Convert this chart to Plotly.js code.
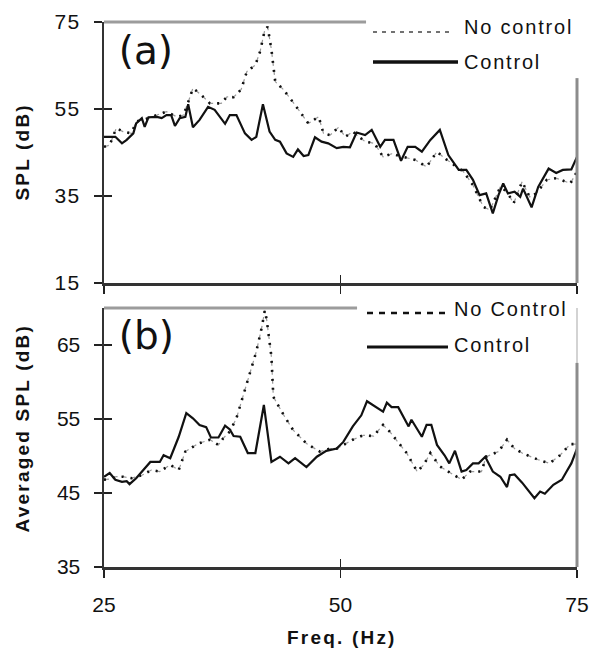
<!DOCTYPE html>
<html>
<head>
<meta charset="utf-8">
<script src="https://cdn.plot.ly/plotly-3.0.1.min.js"></script>
<style>
  html, body { margin: 0; padding: 0; background: #fff; }
  #chart { width: 593px; height: 657px; }
  .annotation-text { letter-spacing: 1.8px; }
  g.annotation[data-index="4"] text, g.annotation[data-index="5"] text { letter-spacing: 0px; }
  g.annotation[data-index="6"] text, g.annotation[data-index="7"] text, g.annotation[data-index="8"] text { letter-spacing: 2.2px; }
  .xtick text, .ytick text { letter-spacing: 1.2px; }
</style>
</head>
<body>
<div id="chart"></div>
<script>
// ---------- Data ----------
const seriesNames = ["No control", "Control"];
const seriesNamesB = ["No Control", "Control"];
const panelLabels = ["(a)", "(b)"];
const yTitleA = "SPL (dB)";
const yTitleB = "Averaged SPL (dB)";
const xTitle = "Freq. (Hz)";

const xTicks = [25, 50, 75];
const yTicksA = [15, 35, 55, 75];
const yTicksB = [35, 45, 55, 65];

// Panel (a) - Control
const freqA_ctrl = [25.0,25.6,26.2,26.9,27.4,28.1,28.4,29.0,29.3,29.7,30.6,31.1,31.6,32.1,32.5,33.0,33.6,33.9,34.4,35.1,36.0,36.7,37.8,38.3,39.0,39.9,40.6,41.1,41.8,42.5,43.1,43.6,44.3,45.0,45.5,46.1,46.6,47.3,48.0,48.7,49.6,50.3,51.0,51.7,52.6,53.3,54.2,54.7,55.6,56.4,57.1,57.9,58.6,59.5,60.5,61.4,62.5,63.3,64.0,64.7,65.4,66.1,66.7,67.2,67.7,68.4,69.0,69.3,70.2,70.9,72.0,72.8,73.5,74.4,75.0];
const splA_ctrl  = [48.6,48.6,48.6,47.1,47.9,49.4,51.7,52.9,50.9,53.1,53.2,52.9,53.6,53.6,51.1,52.9,53.2,56.1,50.8,52.5,55.5,54.8,51.6,53.6,53.6,49.4,47.9,48.6,56.1,49.8,47.9,47.5,44.8,44.0,45.7,44.2,44.4,48.5,47.5,47.1,46.0,46.3,46.2,49.6,49.0,50.2,46.3,47.9,47.9,43.1,46.3,46.3,45.2,47.9,50.2,44.4,41.0,41.0,38.7,35.2,35.6,31.0,35.2,37.9,35.6,36.0,34.8,36.7,32.4,37.1,41.3,40.3,41.0,41.1,44.0];

// Panel (a) - No control
const freqA_noc = [25.0,25.6,26.3,27.0,27.9,28.4,29.7,30.6,31.6,32.7,33.4,34.1,34.4,35.3,36.2,37.4,38.0,38.7,39.5,40.1,41.0,41.5,42.0,42.3,42.7,43.1,44.0,45.2,46.6,47.7,48.2,48.9,49.8,50.5,51.3,52.6,53.6,54.5,55.4,56.6,57.9,59.1,60.2,61.0,62.1,63.0,64.0,65.1,65.8,66.9,67.6,68.3,69.2,70.0,70.7,71.8,72.8,74.3,75.0];
const splA_noc  = [46.3,46.7,50.6,49.8,49.4,52.1,52.9,53.6,54.4,53.2,53.6,57.8,59.8,58.2,56.3,56.3,57.8,57.7,59.5,63.6,65.1,68.2,73.2,73.9,68.6,61.3,59.4,55.9,51.7,53.2,49.4,49.0,50.8,48.6,49.8,47.5,47.1,44.0,44.7,44.0,43.3,41.7,45.2,43.7,42.1,40.6,37.5,32.5,31.8,37.1,36.0,33.3,38.3,34.8,35.6,38.7,39.1,37.9,40.6];

// Panel (b) - Control
const freqB_ctrl = [25.0,25.6,26.2,26.9,27.4,27.7,28.4,29.1,29.9,30.9,31.3,32.0,32.9,33.7,34.4,35.1,35.8,36.3,37.1,37.8,38.3,38.7,39.4,40.2,41.0,41.9,42.7,43.6,44.5,45.2,46.4,47.5,48.5,49.6,50.3,51.3,52.2,52.8,53.6,54.5,54.9,55.4,56.1,57.2,57.5,58.6,59.1,59.6,60.2,61.0,61.5,62.1,62.8,63.3,64.0,64.6,65.3,66.1,66.9,67.6,67.9,68.4,69.2,69.9,70.5,71.1,71.6,72.5,73.4,73.9,74.4,75.0];
const splB_ctrl  = [47.2,47.7,46.8,46.5,46.6,46.2,47.0,48.1,49.2,49.2,50.1,49.7,52.6,55.8,55.1,54.2,53.9,52.5,52.5,54.1,53.6,52.7,52.6,50.4,50.4,56.9,49.2,49.9,49.0,49.7,48.5,49.9,50.7,51.0,51.9,54.0,55.5,57.4,56.7,56.0,57.2,56.6,56.6,54.0,54.9,52.6,54.2,54.2,51.5,50.1,49.0,50.7,47.9,48.1,49.0,49.0,49.9,47.9,47.2,45.8,47.4,47.5,46.4,45.2,44.3,45.2,44.9,46.1,46.8,47.9,49.0,51.0];

// Panel (b) - No Control
const freqB_noc = [25.0,25.6,26.3,27.0,27.9,29.0,30.0,30.9,32.0,32.9,33.6,35.0,36.2,37.1,37.6,38.3,39.0,39.7,40.4,41.1,41.7,42.0,42.2,42.7,42.9,44.1,45.0,46.4,47.8,48.9,49.6,51.3,52.4,53.5,54.5,55.2,57.0,58.1,58.8,59.5,60.5,61.4,62.8,63.7,64.9,65.4,66.7,67.6,68.4,69.2,70.9,72.1,73.2,74.3,75.0];
const splB_noc  = [46.8,46.9,47.2,47.2,47.0,47.4,48.1,47.9,48.8,48.1,50.6,51.7,52.2,51.5,52.4,53.3,55.1,58.0,60.9,64.1,67.5,69.7,68.4,63.4,58.0,55.3,53.5,51.7,50.6,51.0,51.0,52.2,52.8,52.7,54.2,53.3,50.4,47.9,48.8,50.4,48.6,47.9,46.8,47.9,47.9,49.9,50.6,52.2,51.0,50.4,49.5,49.0,50.1,51.6,51.6];

// ---------- Styles ----------
const FONT = "Liberation Sans, Arial, Helvetica, sans-serif";
const W = 593, H = 657;
const px = v => v / W;            // pixel -> paper x
const py = v => 1 - v / H;        // pixel -> paper y

const xDom = [px(104), px(577)];
const yDomA = [py(283), py(22)];
const yDomB = [py(567), py(308)];

const ctrlLine = {color: "#111", width: 2.2};
const nocGray = {color: "#9a9a9a", width: 1.2, dash: "5px,4px"};
const nocBlack = {color: "#111", width: 2.6, dash: "2px,7px"};

const traces = [
  {x: freqA_noc, y: splA_noc, xaxis: "x", yaxis: "y", mode: "lines", line: nocGray, showlegend: false},
  {x: freqA_noc, y: splA_noc, xaxis: "x", yaxis: "y", mode: "lines", line: nocBlack, name: seriesNames[0], showlegend: false},
  {x: freqA_ctrl, y: splA_ctrl, xaxis: "x", yaxis: "y", mode: "lines", line: ctrlLine, name: seriesNames[1], showlegend: false},
  {x: freqB_noc, y: splB_noc, xaxis: "x2", yaxis: "y2", mode: "lines", line: nocGray, showlegend: false},
  {x: freqB_noc, y: splB_noc, xaxis: "x2", yaxis: "y2", mode: "lines", line: nocBlack, name: seriesNamesB[0], showlegend: false},
  {x: freqB_ctrl, y: splB_ctrl, xaxis: "x2", yaxis: "y2", mode: "lines", line: ctrlLine, name: seriesNamesB[1], showlegend: false},
  // invisible traces that activate the overlay axes (inner half of the crossing ticks)
  {x: [50], y: [-1000], xaxis: "x3", yaxis: "y3", mode: "markers", marker: {opacity: 0}, showlegend: false},
  {x: [50], y: [-1000], xaxis: "x4", yaxis: "y4", mode: "markers", marker: {opacity: 0}, showlegend: false}
];

const tickFont = {family: FONT, size: 21, color: "#111"};
const baseAxis = {
  showgrid: false, zeroline: false, showline: true,
  linecolor: "#333", linewidth: 2.5,
  ticks: "outside", ticklen: 8, tickwidth: 1.5, tickcolor: "#222",
  tickfont: tickFont, tickmode: "array", fixedrange: true
};
const innerAxis = {
  showgrid: false, zeroline: false, showline: false,
  ticks: "inside", ticklen: 8, tickwidth: 1.5, tickcolor: "#222",
  showticklabels: false, tickmode: "array", fixedrange: true
};

const layout = {
  width: W, height: H,
  margin: {l: 0, r: 0, t: 0, b: 0},
  paper_bgcolor: "#fff", plot_bgcolor: "rgba(0,0,0,0)",
  showlegend: false,
  xaxis: Object.assign({}, baseAxis, {domain: xDom, anchor: "y", range: [25, 75], tickvals: xTicks, showticklabels: false}),
  yaxis: Object.assign({}, baseAxis, {domain: yDomA, anchor: "x", range: [15, 75], tickvals: yTicksA, ticklabelstandoff: 9}),
  xaxis2: Object.assign({}, baseAxis, {domain: xDom, anchor: "y2", range: [25, 75], tickvals: xTicks, ticklabelstandoff: 9}),
  yaxis2: Object.assign({}, baseAxis, {domain: yDomB, anchor: "x2", range: [35, 70], tickvals: yTicksB, ticklabelstandoff: 9}),
  xaxis3: Object.assign({}, innerAxis, {overlaying: "x", anchor: "y3", range: [25, 75], tickvals: xTicks}),
  yaxis3: Object.assign({}, innerAxis, {overlaying: "y", anchor: "x3", range: [15, 75], tickvals: yTicksA}),
  xaxis4: Object.assign({}, innerAxis, {overlaying: "x2", anchor: "y4", range: [25, 75], tickvals: xTicks}),
  yaxis4: Object.assign({}, innerAxis, {overlaying: "y2", anchor: "x4", range: [35, 70], tickvals: yTicksB}),
  shapes: [
    // partial grey frame of panel (a)
    {type: "line", xref: "x domain", yref: "y domain", x0: 0, x1: 0.554, y0: 1, y1: 1, line: {color: "#9c9c9c", width: 3}},
    {type: "line", xref: "x domain", yref: "y domain", x0: 1, x1: 1, y0: 0, y1: 0.785, line: {color: "#8c8c8c", width: 3}},
    // partial grey frame of panel (b)
    {type: "line", xref: "x2 domain", yref: "y2 domain", x0: 0, x1: 0.535, y0: 1, y1: 1, line: {color: "#9c9c9c", width: 3}},
    {type: "line", xref: "x2 domain", yref: "y2 domain", x0: 1, x1: 1, y0: 0.788, y1: 1, line: {color: "#c4c4c4", width: 1.5}},
    {type: "line", xref: "x2 domain", yref: "y2 domain", x0: 1, x1: 1, y0: 0, y1: 0.788, line: {color: "#8c8c8c", width: 3}},
    // legend samples (a)
    {type: "line", xref: "paper", yref: "paper", x0: px(373), x1: px(453), y0: py(32), y1: py(32), line: {color: "#444", width: 1.3, dash: "4px,5px"}},
    {type: "line", xref: "paper", yref: "paper", x0: px(373), x1: px(458), y0: py(62), y1: py(62), line: {color: "#111", width: 3.5}},
    // legend samples (b)
    {type: "line", xref: "paper", yref: "paper", x0: px(367), x1: px(445), y0: py(313), y1: py(313), line: {color: "#111", width: 2.5, dash: "6px,6px"}},
    {type: "line", xref: "paper", yref: "paper", x0: px(367), x1: px(448), y0: py(347), y1: py(347), line: {color: "#111", width: 3}}
  ],
  annotations: [
    {text: seriesNames[0], xref: "paper", yref: "paper", x: px(462), y: py(27), xanchor: "left", yanchor: "middle", showarrow: false, font: {family: FONT, size: 20, color: "#111"}},
    {text: seriesNames[1], xref: "paper", yref: "paper", x: px(462), y: py(62), xanchor: "left", yanchor: "middle", showarrow: false, font: {family: FONT, size: 20, color: "#111"}},
    {text: seriesNamesB[0], xref: "paper", yref: "paper", x: px(452), y: py(309), xanchor: "left", yanchor: "middle", showarrow: false, font: {family: FONT, size: 20, color: "#111"}},
    {text: seriesNamesB[1], xref: "paper", yref: "paper", x: px(452), y: py(345), xanchor: "left", yanchor: "middle", showarrow: false, font: {family: FONT, size: 20, color: "#111"}},
    {text: panelLabels[0], xref: "paper", yref: "paper", x: px(114), y: py(51), xanchor: "left", yanchor: "middle", showarrow: false, font: {family: "DejaVu Sans, sans-serif", size: 39, color: "#111"}},
    {text: panelLabels[1], xref: "paper", yref: "paper", x: px(114), y: py(335), xanchor: "left", yanchor: "middle", showarrow: false, font: {family: "DejaVu Sans, sans-serif", size: 39, color: "#111"}},
    {text: "<b>" + yTitleA + "</b>", xref: "paper", yref: "paper", x: px(22), y: py(152), xanchor: "center", yanchor: "middle", textangle: -90, showarrow: false, font: {family: FONT, size: 19, color: "#111"}},
    {text: "<b>" + yTitleB + "</b>", xref: "paper", yref: "paper", x: px(22), y: py(428), xanchor: "center", yanchor: "middle", textangle: -90, showarrow: false, font: {family: FONT, size: 19, color: "#111"}},
    {text: "<b>" + xTitle + "</b>", xref: "paper", yref: "paper", x: px(342), y: py(637), xanchor: "center", yanchor: "middle", showarrow: false, font: {family: FONT, size: 19, color: "#111"}}
  ]
};

Plotly.newPlot("chart", traces, layout, {staticPlot: true, displayModeBar: false});
</script>
</body>
</html>
